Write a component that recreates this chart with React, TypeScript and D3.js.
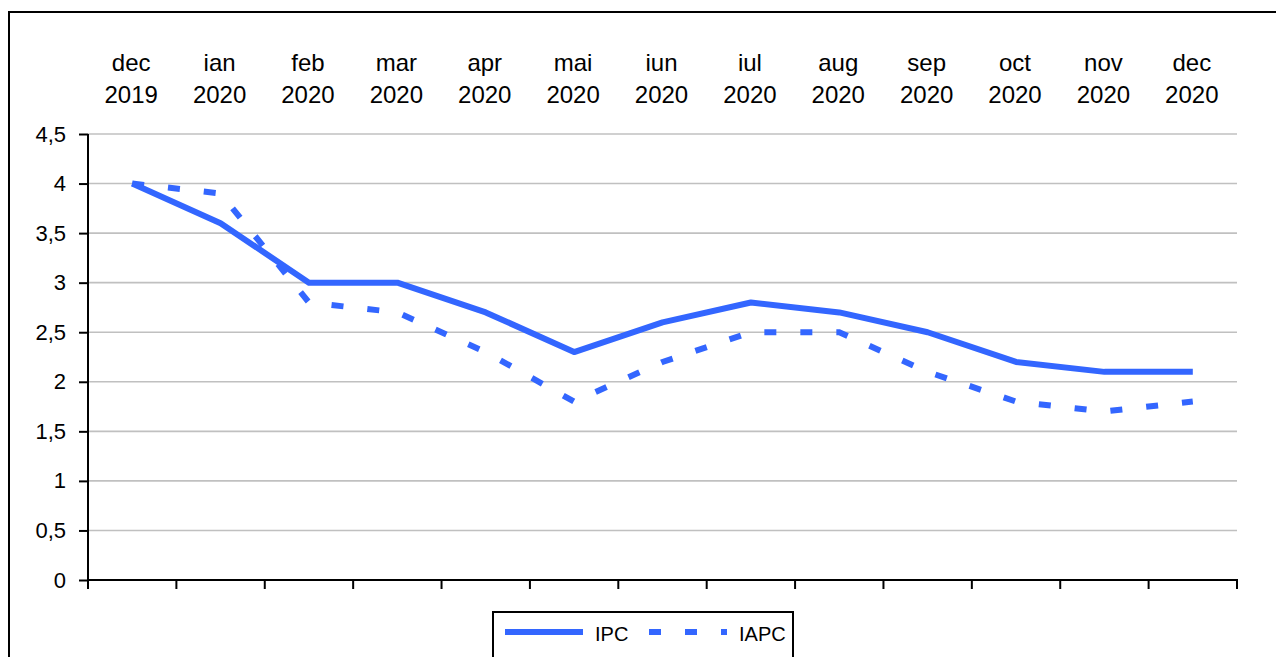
import { useEffect, useRef } from "react";
import * as d3 from "d3";

const months = ["dec", "ian", "feb", "mar", "apr", "mai", "iun", "iul", "aug", "sep", "oct", "nov", "dec"];
const years = ["2019", "2020", "2020", "2020", "2020", "2020", "2020", "2020", "2020", "2020", "2020", "2020", "2020"];
const ipcValues = [4.0, 3.6, 3.0, 3.0, 2.7, 2.3, 2.6, 2.8, 2.7, 2.5, 2.2, 2.1, 2.1];
const iapcValues = [4.0, 3.9, 2.8, 2.7, 2.3, 1.8, 2.2, 2.5, 2.5, 2.1, 1.8, 1.7, 1.8];
const yTicks = [0, 0.5, 1, 1.5, 2, 2.5, 3, 3.5, 4, 4.5];

const W = 1276;
const H = 657;
const LINE_COLOR = "#3366ff";
const FONT = "'Liberation Sans', Arial, sans-serif";

export default function App() {
  const svgRef = useRef<SVGSVGElement>(null);

  useEffect(() => {
    if (!svgRef.current) return;
    const svg = d3.select(svgRef.current);
    svg.selectAll("*").remove();

    const left = 88;
    const right = 1237;
    const top = 134;
    const bottom = 580;

    const keys = months.map((m, i) => `${i}`);
    const x = d3.scaleBand<string>().domain(keys).range([left, right]).padding(0);
    const y = d3.scaleLinear().domain([0, 4.5]).range([bottom, top]);
    const cx = (i: number) => x(`${i}`)! + x.bandwidth() / 2;

    // outer frame
    svg
      .append("rect")
      .attr("x", 9)
      .attr("y", 12)
      .attr("width", 1300)
      .attr("height", 700)
      .attr("fill", "#fff")
      .attr("stroke", "#000")
      .attr("stroke-width", 2);

    // gridlines
    svg
      .append("g")
      .selectAll("line")
      .data(yTicks.filter((t) => t > 0))
      .enter()
      .append("line")
      .attr("x1", left)
      .attr("x2", right)
      .attr("y1", (d) => y(d))
      .attr("y2", (d) => y(d))
      .attr("stroke", "#c0c0c0")
      .attr("stroke-width", 1.6);

    // y axis
    const yAxis = svg
      .append("g")
      .attr("transform", `translate(${left},0)`)
      .call(
        d3
          .axisLeft(y)
          .tickValues(yTicks)
          .tickSize(9)
          .tickPadding(13)
          .tickFormat((d) => d3.format("")(d as number).replace(".", ","))
      );
    yAxis.select(".domain").attr("stroke", "#000").attr("stroke-width", 2).attr("d", `M0,${top}V${bottom}`);
    yAxis.selectAll(".tick line").attr("stroke", "#000").attr("stroke-width", 2);
    yAxis
      .selectAll("text")
      .style("font-family", FONT)
      .style("font-size", "22px")
      .attr("fill", "#000");

    // x axis: ticks at band boundaries
    const xAxis = svg.append("g");
    xAxis
      .append("line")
      .attr("x1", left)
      .attr("x2", right + 1)
      .attr("y1", bottom)
      .attr("y2", bottom)
      .attr("stroke", "#000")
      .attr("stroke-width", 2);
    xAxis
      .selectAll("line.tk")
      .data([...keys.map((k) => x(k)!), right])
      .enter()
      .append("line")
      .attr("class", "tk")
      .attr("x1", (d) => d)
      .attr("x2", (d) => d)
      .attr("y1", bottom)
      .attr("y2", bottom + 9)
      .attr("stroke", "#000")
      .attr("stroke-width", 2);

    // category labels on top
    const labels = svg.append("g").style("font-family", FONT).style("font-size", "24px").attr("fill", "#000");
    labels
      .selectAll("text.m")
      .data(months)
      .enter()
      .append("text")
      .attr("class", "m")
      .attr("x", (_d, i) => cx(i) - 1)
      .attr("y", 71)
      .attr("text-anchor", "middle")
      .text((d) => d);
    labels
      .selectAll("text.yr")
      .data(years)
      .enter()
      .append("text")
      .attr("class", "yr")
      .attr("x", (_d, i) => cx(i) - 1)
      .attr("y", 103)
      .attr("text-anchor", "middle")
      .text((d) => d);

    const line = d3
      .line<number>()
      .x((_d, i) => cx(i))
      .y((d) => y(d));

    svg
      .append("path")
      .datum(iapcValues)
      .attr("d", line)
      .attr("fill", "none")
      .attr("stroke", LINE_COLOR)
      .attr("stroke-width", 6)
      .attr("stroke-dasharray", "12,24")
      .attr("stroke-linejoin", "miter");

    svg
      .append("path")
      .datum(ipcValues)
      .attr("d", line)
      .attr("fill", "none")
      .attr("stroke", LINE_COLOR)
      .attr("stroke-width", 6)
      .attr("stroke-linejoin", "round");

    // legend
    const legend = svg.append("g");
    legend
      .append("rect")
      .attr("x", 493)
      .attr("y", 612)
      .attr("width", 300)
      .attr("height", 80)
      .attr("fill", "#fff")
      .attr("stroke", "#000")
      .attr("stroke-width", 2);
    legend
      .append("line")
      .attr("x1", 505)
      .attr("x2", 583)
      .attr("y1", 632)
      .attr("y2", 632)
      .attr("stroke", LINE_COLOR)
      .attr("stroke-width", 6);
    legend
      .append("line")
      .attr("x1", 649)
      .attr("x2", 727)
      .attr("y1", 632)
      .attr("y2", 632)
      .attr("stroke", LINE_COLOR)
      .attr("stroke-width", 6)
      .attr("stroke-dasharray", "12,24");
    legend
      .selectAll("text")
      .data([
        { label: "IPC", x: 595 },
        { label: "IAPC", x: 739 },
      ])
      .enter()
      .append("text")
      .attr("x", (d) => d.x)
      .attr("y", 641)
      .style("font-family", FONT)
      .style("font-size", "20px")
      .attr("fill", "#000")
      .text((d) => d.label);
  }, []);

  return (
    <svg
      ref={svgRef}
      width={W}
      height={H}
      style={{ position: "fixed", top: 0, left: 0, display: "block", background: "#fff" }}
    />
  );
}
